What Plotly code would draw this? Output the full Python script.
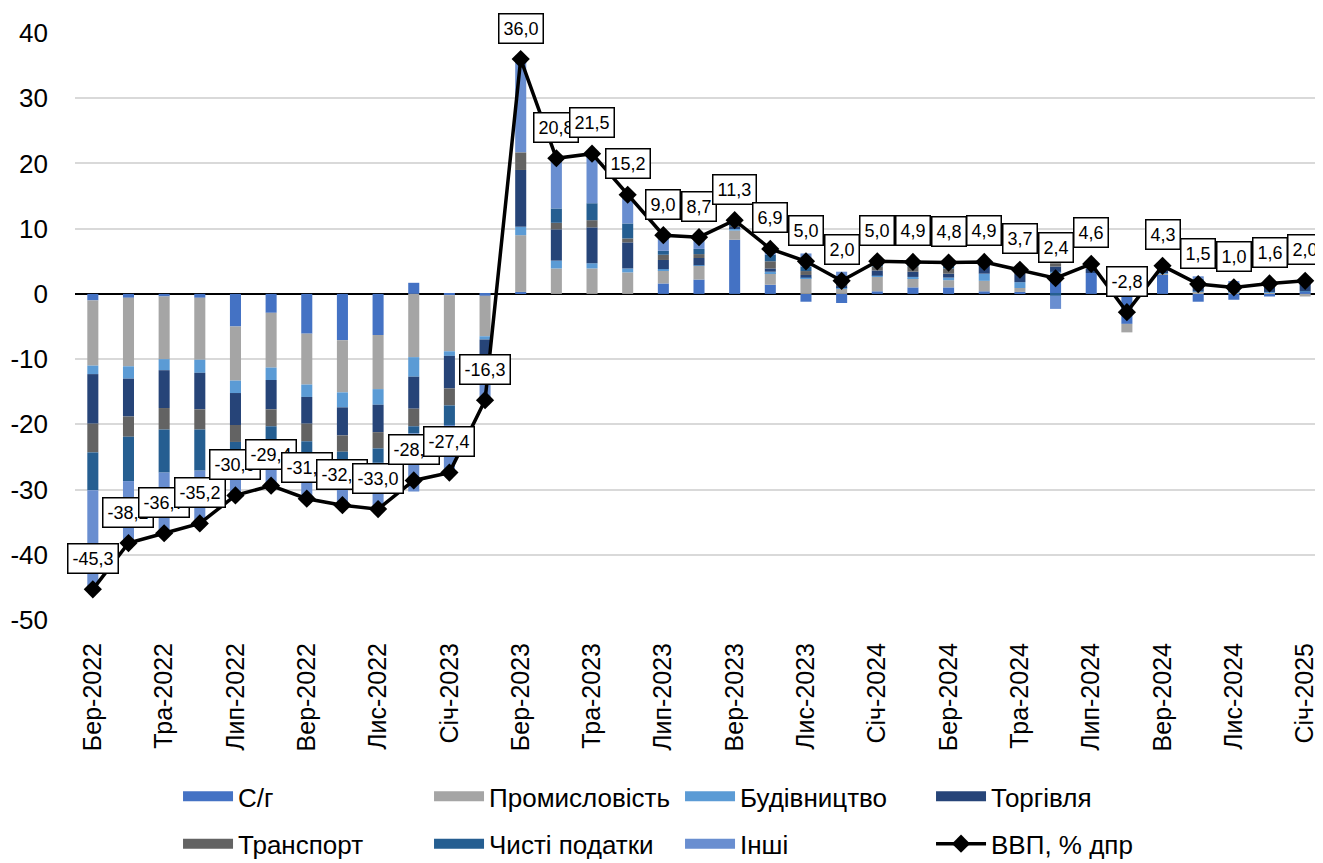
import plotly.graph_objects as go

months = ["Бер-2022", "Кві-2022", "Тра-2022", "Чер-2022", "Лип-2022", "Сер-2022",
          "Вер-2022", "Жов-2022", "Лис-2022", "Гру-2022", "Січ-2023", "Лют-2023",
          "Бер-2023", "Кві-2023", "Тра-2023", "Чер-2023", "Лип-2023", "Сер-2023",
          "Вер-2023", "Жов-2023", "Лис-2023", "Гру-2023", "Січ-2024", "Лют-2024",
          "Бер-2024", "Кві-2024", "Тра-2024", "Чер-2024", "Лип-2024", "Сер-2024",
          "Вер-2024", "Жов-2024", "Лис-2024", "Гру-2024", "Січ-2025"]

agri = [-1.0, -0.6, -0.4, -0.6, -5.0, -2.9, -6.1, -7.1, -6.3, 1.7, -0.2, -0.3,
        0.3, 0.0, 0.0, 0.0, 1.6, 2.2, 8.3, 1.4, -1.2, -1.4, 0.4, 1.0,
        1.0, 0.4, 0.3, 3.2, 3.2, -4.6, 2.9, -1.2, -0.9, -0.4, 0.3]
industry = [-10.0, -10.5, -9.6, -9.5, -8.3, -8.4, -7.8, -8.0, -8.3, -9.7, -8.6, -6.2,
            8.7, 3.9, 3.9, 3.3, 2.0, 2.1, 1.4, 1.8, 2.4, 0.9, 2.2, 1.4,
            1.1, 1.6, 0.6, 0.1, 0.0, -1.3, 0.2, 0.3, 0.2, 0.2, -0.4]
construction = [-1.3, -1.9, -1.7, -2.0, -1.9, -1.9, -1.9, -2.3, -2.4, -3.0, -0.7, -0.5,
                1.3, 1.2, 0.8, 0.6, 0.2, 0.1, 0.4, 0.2, 0.1, 0.1, 0.2, 0.2,
                0.4, 1.1, 0.9, 0.1, 0.0, 0.3, 0.1, 0.1, 0.1, 0.1, 0.1]
trade = [-7.6, -5.8, -5.8, -5.6, -4.9, -4.5, -4.1, -4.3, -4.2, -4.9, -5.0, -3.0,
         8.7, 4.8, 5.5, 4.0, 1.4, 1.1, 0.2, 0.5, 0.4, 0.3, 0.8, 0.8,
         0.6, 1.3, 1.3, 0.8, 0.7, 1.2, 0.6, 1.2, 0.9, 0.9, 1.2]
transport = [-4.4, -3.1, -3.3, -3.1, -2.6, -2.6, -2.7, -2.5, -2.5, -2.7, -2.6, -1.0,
             2.7, 1.0, 1.1, 0.6, 0.8, 0.6, 0.2, 1.1, 0.6, 0.2, 0.6, 0.8,
             0.8, 0.2, 0.2, 0.5, 0.4, 0.5, 0.2, 0.4, 0.3, 0.3, 0.3]
net_taxes = [-5.8, -6.8, -6.6, -6.3, -2.6, -2.5, -2.0, -1.8, -2.2, -1.1, -3.0, -1.5,
             0.0, 2.2, 2.6, 2.3, 0.6, 0.8, 0.2, 1.0, 0.7, 0.3, 0.5, 0.5,
             0.5, 0.2, 0.2, -0.3, 0.2, 0.5, 0.2, 0.3, 0.2, 0.2, 0.2]
other = [-15.2, -9.5, -9.3, -8.1, -5.6, -6.6, -6.8, -6.4, -7.1, -8.9, -7.3, -3.8,
         14.3, 7.7, 7.6, 4.4, 2.4, 1.8, 0.6, 0.9, 2.0, 1.6, 0.3, 0.2,
         0.4, 0.1, 0.2, -2.0, 0.1, 0.6, 0.1, 0.4, 0.2, 0.3, 0.3]
gdp = [-45.3, -38.2, -36.7, -35.2, -30.9, -29.4, -31.4, -32.4, -33.0, -28.6, -27.4, -16.3,
       36.0, 20.8, 21.5, 15.2, 9.0, 8.7, 11.3, 6.9, 5.0, 2.0, 5.0, 4.9,
       4.8, 4.9, 3.7, 2.4, 4.6, -2.8, 4.3, 1.5, 1.0, 1.6, 2.0]

tick_labels = months[::2]
y_ticks = [-50, -40, -30, -20, -10, 0, 10, 20, 30, 40]

series = [
    ("С/г", agri, "#4472C4", "legend"),
    ("Промисловість", industry, "#A5A5A5", "legend"),
    ("Будівництво", construction, "#5B9BD5", "legend"),
    ("Торгівля", trade, "#264478", "legend"),
    ("Транспорт", transport, "#636363", "legend2"),
    ("Чисті податки", net_taxes, "#255E91", "legend2"),
    ("Інші", other, "#698ED0", "legend2"),
]

FONT = "Liberation Sans, Arial, sans-serif"

fig = go.Figure()
for name, vals, color, lg in series:
    fig.add_trace(go.Bar(x=months, y=vals, name=name, marker_color=color,
                         marker_line_width=0, showlegend=False))

fig.add_trace(go.Scatter(x=months, y=gdp, name="ВВП, % дпр", mode="lines+markers",
                         line=dict(color="black", width=3.5),
                         marker=dict(symbol="diamond", size=14, color="black"),
                         showlegend=False, cliponaxis=False))

# legend-only entries (no data), wide colour swatches like the original
for name, vals, color, lg in series:
    fig.add_trace(go.Scatter(x=[None], y=[None], name=name, mode="lines",
                             line=dict(color=color, width=16), legend=lg))
fig.add_trace(go.Scatter(x=[None], y=[None], name="ВВП, % дпр", mode="lines+markers",
                         line=dict(color="black", width=3.5),
                         marker=dict(symbol="diamond", size=14, color="black"),
                         legend="legend2"))

for m, v in zip(months, gdp):
    fig.add_annotation(x=m, y=v, text=f"{v:.1f}".replace(".", ","), showarrow=False,
                       yshift=31, bgcolor="white", bordercolor="black", borderwidth=1.5,
                       borderpad=4, font=dict(family=FONT, size=18, color="black"))

legend_common = dict(orientation="h", xanchor="left", yanchor="top",
                     xref="container", yref="container",
                     entrywidth=186, entrywidthmode="pixels", itemwidth=50,
                     font=dict(family=FONT, size=26, color="black"),
                     bgcolor="rgba(0,0,0,0)", traceorder="normal")

fig.update_layout(
    barmode="relative",
    bargap=0.69,
    width=1315, height=855,
    margin=dict(l=67, r=0, t=25, b=243),
    plot_bgcolor="white", paper_bgcolor="white",
    font=dict(family=FONT, color="black"),
    showlegend=True,
    legend=dict(x=0.1293, y=0.1053, **legend_common),
    legend2=dict(x=0.1293, y=0.0500, **legend_common),
    xaxis=dict(type="category", tickmode="array", tickvals=tick_labels, ticktext=tick_labels,
               tickangle=-90, tickfont=dict(family=FONT, size=25, color="black"),
               showgrid=False, showline=False, ticks="", ticklabelstandoff=17,
               range=[-0.5, len(months) - 0.5], automargin=False),
    yaxis=dict(range=[-50, 40], tickmode="array", tickvals=y_ticks,
               ticktext=[str(t) for t in y_ticks], showgrid=True, gridcolor="#D9D9D9",
               gridwidth=1.5, zeroline=True, zerolinecolor="black", zerolinewidth=1.5,
               tickfont=dict(family=FONT, size=26, color="black"), ticklabelstandoff=26,
               showline=False, automargin=False),
)

fig.write_html("out.html")
